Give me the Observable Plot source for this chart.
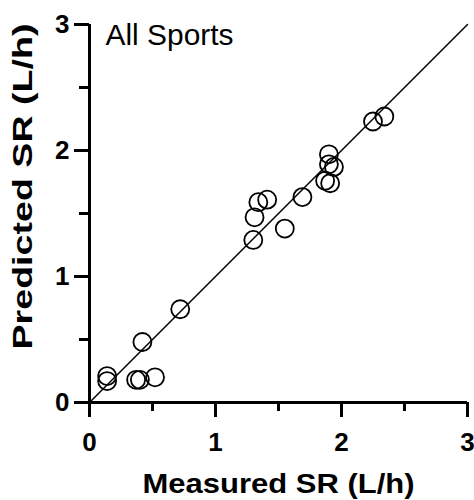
<!DOCTYPE html>
<html>
<head>
<meta charset="utf-8">
<script src="https://cdn.jsdelivr.net/npm/d3@7"></script>
<script src="https://cdn.jsdelivr.net/npm/@observablehq/plot@0.6"></script>
<style>
  html, body { margin: 0; padding: 0; background: #fff; }
</style>
</head>
<body>
<div id="chart"></div>
<script>
const measured  = [0.14, 0.14, 0.37, 0.40, 0.52, 0.42, 0.72, 1.30, 1.31, 1.34, 1.41, 1.55, 1.69, 1.87, 1.91, 1.90, 1.90, 1.94, 2.25, 2.34];
const predicted = [0.21, 0.17, 0.18, 0.18, 0.20, 0.48, 0.74, 1.29, 1.47, 1.59, 1.61, 1.38, 1.63, 1.76, 1.74, 1.97, 1.89, 1.87, 2.23, 2.27];
const majorTicks = [0, 1, 2, 3];
const minorTicks = [0.5, 1.5, 2.5];
const identity = [0, 3];
const panelLabel = ["All Sports"];
const xTitle = ["Measured SR (L/h)"];
const yTitle = ["Predicted SR (L/h)"];

const points = measured.map((m, i) => ({measured: m, predicted: predicted[i]}));
const font = "'Liberation Sans', Arial, Helvetica, sans-serif";

const chart = Plot.plot({
  width: 474,
  height: 500,
  marginLeft: 89,
  marginRight: 7,
  marginTop: 24,
  marginBottom: 98,
  x: {domain: [0, 3], label: null},
  y: {domain: [0, 3], label: null},
  style: {fontFamily: font, color: "black", background: "white"},
  marks: [
    Plot.line(identity, {x: d => d, y: d => d, stroke: "black", strokeWidth: 1.5}),
    Plot.dot(points, {x: "measured", y: "predicted", r: 9, stroke: "black", strokeWidth: 1.8, fill: "none"}),
    Plot.axisX(majorTicks, {tickSize: 15, tickPadding: 15, strokeWidth: 3, fontSize: 26, fontWeight: "bold", tickFormat: d3.format("d"), label: null}),
    Plot.axisX(minorTicks, {tickSize: 9, strokeWidth: 3, tickFormat: () => "", label: null}),
    Plot.axisY(majorTicks, {tickSize: 15, tickPadding: 5, strokeWidth: 3, fontSize: 26, fontWeight: "bold", tickFormat: d3.format("d"), label: null}),
    Plot.axisY(minorTicks, {tickSize: 10, strokeWidth: 3, tickFormat: () => "", label: null}),
    Plot.ruleY([0], {strokeWidth: 3}),
    Plot.ruleX([0], {strokeWidth: 3}),
    Plot.text(panelLabel, {frameAnchor: "top-left", dx: 16, dy: 0, lineAnchor: "top", textAnchor: "start", fontSize: 29, fill: "black", className: "panel"}),
    Plot.text(xTitle, {frameAnchor: "bottom", dy: 71, lineAnchor: "top", textAnchor: "middle", fontSize: 27, fontWeight: "bold", fill: "black", className: "xtitle"}),
    Plot.text(yTitle, {frameAnchor: "left", dx: -77, dy: -27, rotate: -90, lineAnchor: "top", textAnchor: "middle", fontSize: 28, fontWeight: "bold", fill: "black", className: "ytitle"})
  ]
});
d3.select(chart).selectAll(".xtitle text").attr("textLength", 272).attr("lengthAdjust", "spacingAndGlyphs");
d3.select(chart).selectAll(".ytitle text").attr("textLength", 326).attr("lengthAdjust", "spacingAndGlyphs");
d3.select(chart).selectAll(".panel text").attr("textLength", 128).attr("lengthAdjust", "spacingAndGlyphs");
document.getElementById("chart").appendChild(chart);
</script>
</body>
</html>
